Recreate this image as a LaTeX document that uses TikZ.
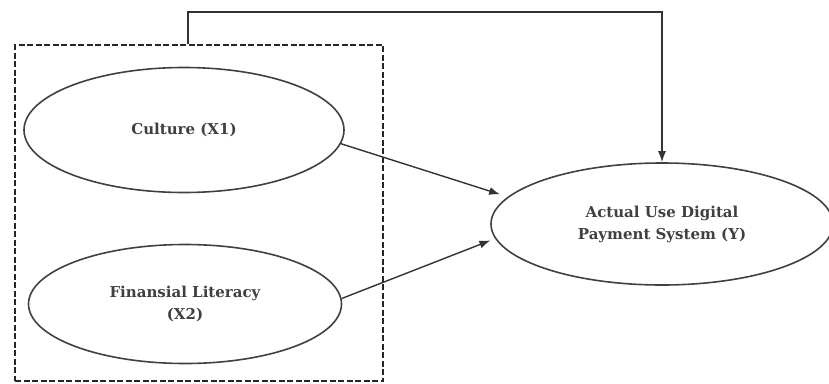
\documentclass[tikz,border=0pt]{standalone}
\usepackage{fontspec}
\setmainfont{DejaVu Serif}
\usetikzlibrary{shapes,arrows.meta,positioning}

\begin{document}
\begin{tikzpicture}[x=1pt, y=1pt, thick]
    % Styles
    \tikzstyle{construct} = [ellipse, draw=black!75, line width=1.6pt, align=center, text=black!75, font=\bfseries\fontsize{15}{22}\selectfont]
    \tikzstyle{group_box} = [rectangle, draw=black!85, line width=2.3pt, dash pattern=on 6pt off 2.5pt]
    \tikzstyle{arrow} = [-{Latex[length=11pt, width=8pt]}, draw=black!80, line width=1.4pt]

    \useasboundingbox (0,0) rectangle (829,-383);

    % Independent variables
    \node [group_box, minimum width=368, minimum height=336] (grp) at (199,-213) {};
    \node [construct, minimum width=320, minimum height=125] (cul) at (184,-130) {Culture (X1)};
    \node [construct, minimum width=313, minimum height=119] (fin) at (185,-304) {Finansial Literacy\\(X2)};

    % Dependent variable
    \node [construct, minimum width=342, minimum height=122] (use) at (662,-224) {Actual Use Digital\\Payment System (Y)};

    % Connections
    \draw [arrow, shorten >=8pt] (cul.-5) -- (use.170);
    \draw [arrow, shorten >=5pt] (fin.2) -- (use.185);
    \draw [arrow] ([xshift=-11]grp.north) -- ++(0,32) -| (use.north);

\end{tikzpicture}
\end{document}
